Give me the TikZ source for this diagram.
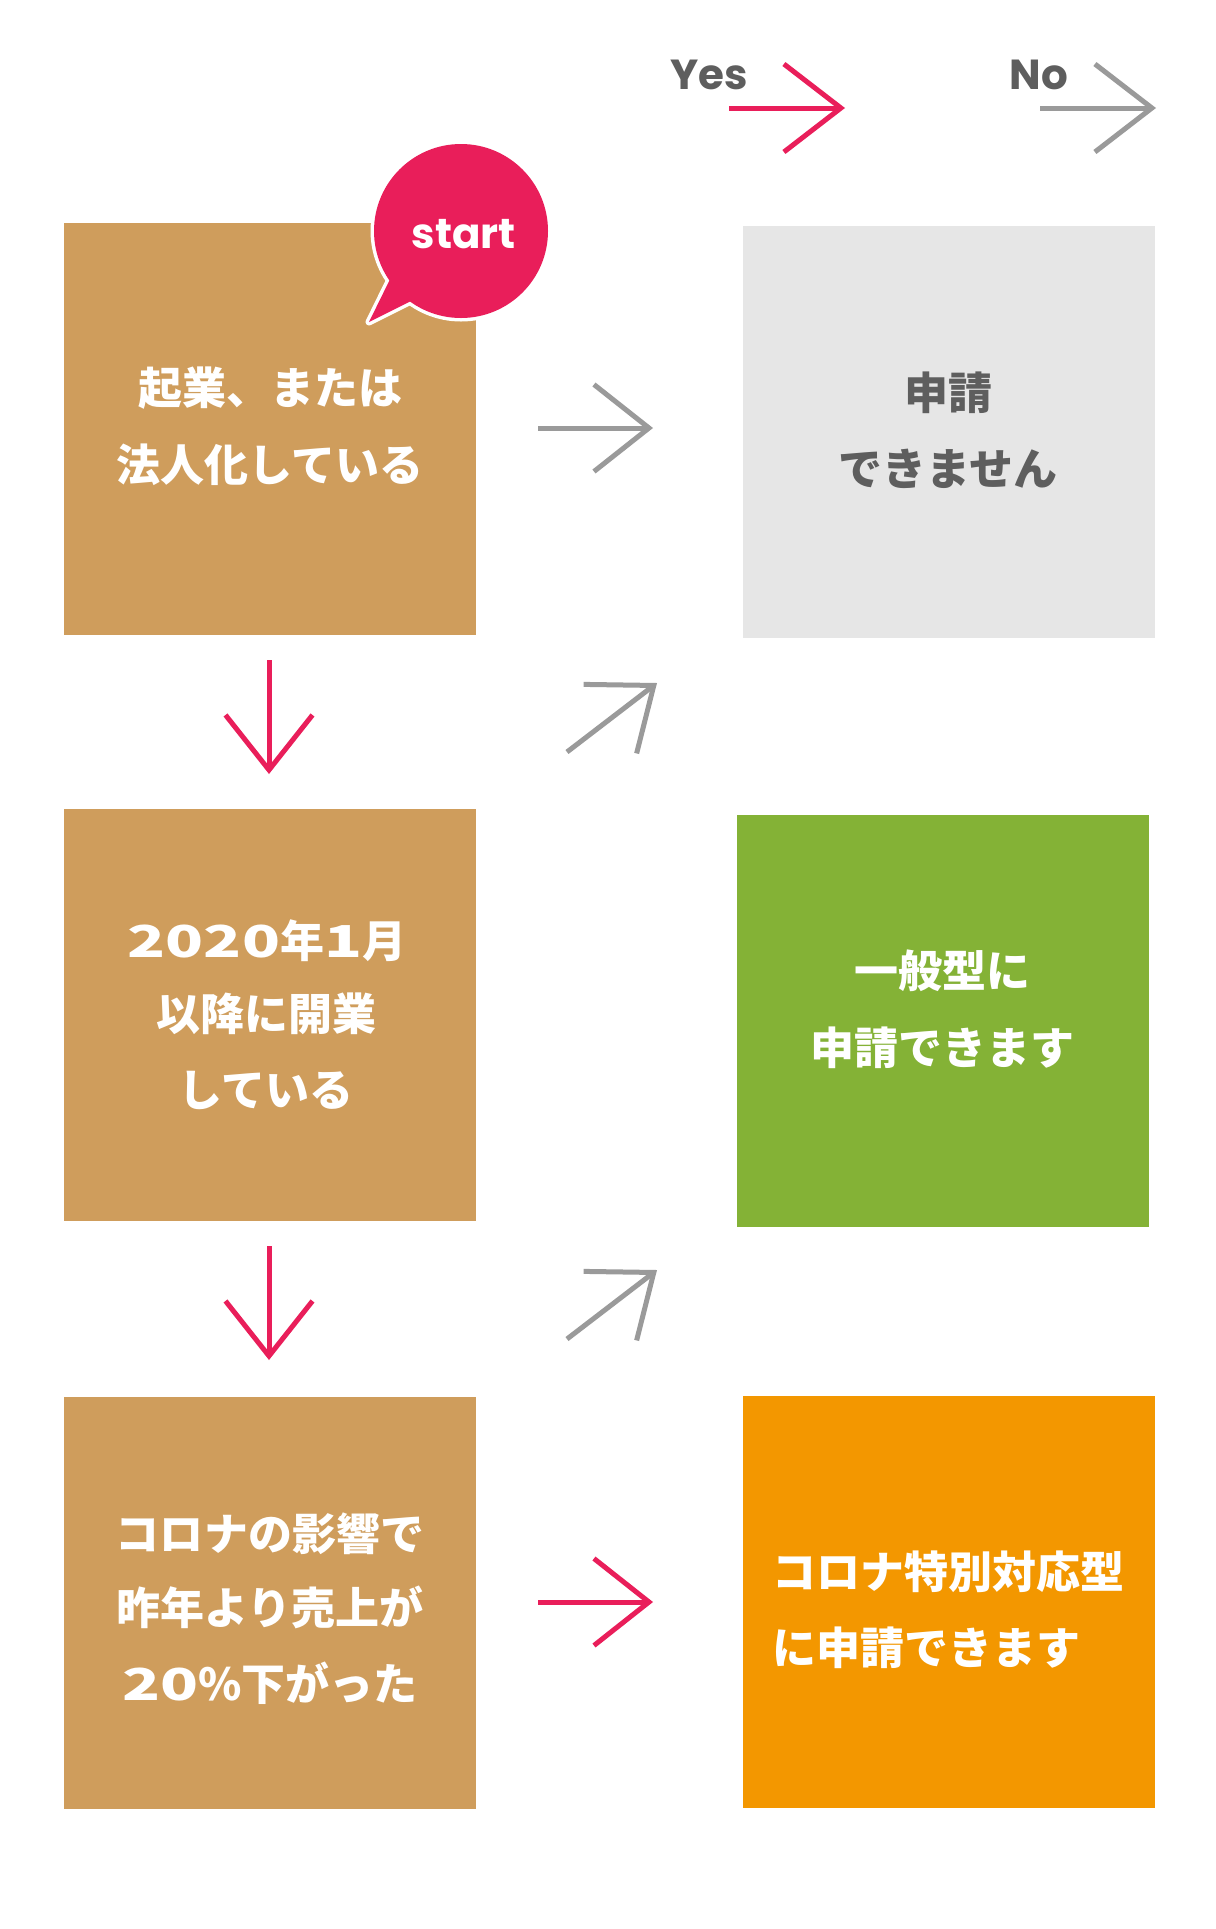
\documentclass[tikz,border=0pt]{standalone}
\usepackage{fontspec}
\newfontfamily\jp{Noto Sans CJK JP}
\newfontfamily\jpwide{Noto Sans CJK JP}[FakeStretch=1.42]
\newfontfamily\pop{Poppins}
\usetikzlibrary{arrows.meta}
\definecolor{tan}{HTML}{CF9D5C}
\definecolor{myred}{HTML}{E91E5A}
\definecolor{mygreen}{HTML}{84B236}
\definecolor{myorange}{HTML}{F39700}
\definecolor{lightbg}{HTML}{E6E6E6}
\definecolor{graytext}{HTML}{5E5E5E}
\definecolor{grayarrow}{HTML}{9A9A9A}
\newcommand{\widedig}[1]{{\jpwide\bfseries #1}}
\begin{document}
\begin{tikzpicture}[x=1bp,y=-1bp,
  box/.style={minimum width=412bp, minimum height=412bp, inner sep=0pt, draw=none},
  lbl/.style={font=\jp\bfseries\fontsize{44bp}{50bp}\selectfont, inner sep=0pt, anchor=base, text=white},
  legendtext/.style={font=\pop\bfseries\fontsize{42bp}{46bp}\selectfont, inner sep=0pt, anchor=base, text=graytext},
  tipped/.style={line width=5bp, -{Straight Barb[length=55bp,width=87bp]}},
  bigtipped/.style={line width=5bp, -{Straight Barb[length=57bp,width=88bp]}},
  yesarrow/.style={tipped, draw=myred},
  noarrow/.style={tipped, draw=grayarrow}]
\useasboundingbox (0,0) rectangle (1215,1929);
\fill[white] (0,0) rectangle (1215,1929);

% legend
\node[legendtext] (yes) at (709,89) {Yes};
\node[legendtext] (no) at (1039,89) {No};
\coordinate (ya) at (729,108); \coordinate (yb) at (845,108);
\coordinate (na) at (1040,108); \coordinate (nb) at (1156,108);
\draw[bigtipped, draw=myred] (ya) -- (yb);
\draw[bigtipped, draw=grayarrow] (na) -- (nb);

% boxes
\node[box, fill=tan] (q1) at (270,429) {};
\node[box, fill=tan] (q2) at (270,1015) {};
\node[box, fill=tan] (q3) at (270,1602.5) {};
\node[box, fill=lightbg] (r1) at (948.5,432) {};
\node[box, fill=mygreen] (r2) at (943,1021) {};
\node[box, fill=myorange] (r3) at (949,1602) {};

% texts
\node[lbl] (t1a) at (270,404) {起業、または};
\node[lbl] (t1b) at (270,481) {法人化している};
\node[lbl] (t2a) at (267,957) {\widedig{2020}年\widedig{1}月};
\node[lbl] (t2b) at (266,1030) {以降に開業};
\node[lbl] (t2c) at (266,1106) {している};
\node[lbl] (t3a) at (270,1550) {コロナの影響で};
\node[lbl] (t3b) at (270,1624) {昨年より売上が};
\node[lbl] (t3c) at (270,1700) {\widedig{20}\%下がった};
\node[lbl, text=graytext] (s1a) at (948,409) {申請};
\node[lbl, text=graytext] (s1b) at (948,485) {できません};
\node[lbl] (s2a) at (942,987) {一般型に};
\node[lbl] (s2b) at (942,1064) {申請できます};
\node[lbl, anchor=base west] (s3a) at (772,1588) {コロナ特別対応型};
\node[lbl, anchor=base west] (s3b) at (772,1664) {に申請できます};

% start bubble
\coordinate (bc) at (461,231);
\coordinate (tailtip) at (369,322);
\coordinate (tailL) at (397,265);
\coordinate (tailR) at (427,293);
\draw[white, line width=7bp, line join=round] (bc) circle[radius=87bp];
\draw[white, line width=7bp, line join=round] (tailtip) -- (tailL) -- (tailR) -- cycle;
\fill[myred] (bc) circle[radius=87bp];
\fill[myred] (tailtip) -- (tailL) -- (tailR) -- cycle;
\node[font=\pop\bfseries\fontsize{42bp}{46bp}\selectfont, text=white, inner sep=0pt, anchor=base] (start) at (464,248) {start};

% arrows
\coordinate (a1) at (538,428); \coordinate (a1e) at (653,428);
\draw[noarrow] (a1) -- (a1e);
\coordinate (d1) at (269,660); \coordinate (d1e) at (269,774);
\draw[yesarrow] (d1) -- (d1e);
\coordinate (g1) at (567,752); \coordinate (g1e) at (657,683);
\draw[noarrow] (g1) -- (g1e);
\coordinate (d2) at (269,1246); \coordinate (d2e) at (269,1360);
\draw[yesarrow] (d2) -- (d2e);
\coordinate (g2) at (567,1339); \coordinate (g2e) at (657,1270);
\draw[noarrow] (g2) -- (g2e);
\coordinate (a3) at (538,1602); \coordinate (a3e) at (653,1602);
\draw[yesarrow] (a3) -- (a3e);
\end{tikzpicture}
\end{document}
